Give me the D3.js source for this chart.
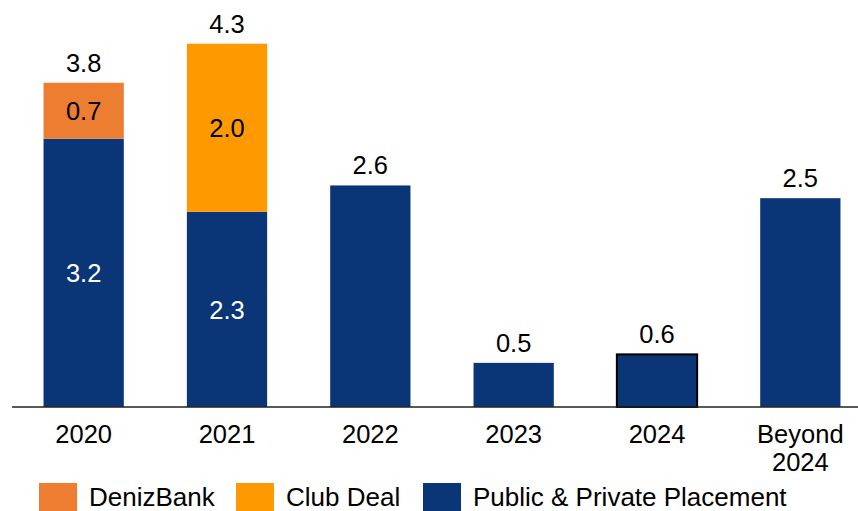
<!DOCTYPE html>
<html>
<head>
<meta charset="utf-8">
<script src="https://cdn.jsdelivr.net/npm/d3@7"></script>
<style>
  body { margin: 0; background: #fff; }
  svg text { font-family: "Liberation Sans", Arial, sans-serif; }
</style>
</head>
<body>
<div id="chart"></div>
<script>
'use strict';

// data
const categories = ["2020", "2021", "2022", "2023", "2024", "Beyond 2024"];
const publicPrivate = [3.16, 2.30, 2.61, 0.52, 0.62, 2.46];
const clubDeal      = [0, 1.98, 0, 0, 0, 0];
const denizBank     = [0.66, 0, 0, 0, 0, 0];
const seriesNames   = ["Public & Private Placement", "Club Deal", "DenizBank"];
const legendOrder   = ["DenizBank", "Club Deal", "Public & Private Placement"];

const colors = {
    "Public & Private Placement": "#0a3577",
    "Club Deal": "#ff9900",
    "DenizBank": "#ed7d31"
};
const labelColors = {
    "Public & Private Placement": "#fff",
    "Club Deal": "#000",
    "DenizBank": "#000"
};

let width = 858, height = 511;
let baseY = 407;
let fontSize = "25.5px";

let svg = d3.select("#chart").append("svg")
    .attr("width", width)
    .attr("height", height);

let x = d3.scaleBand()
    .domain(categories)
    .range([12, 872])
    .paddingInner(0.44)
    .paddingOuter(0.22);

let y = d3.scaleLinear()
    .domain([0, 4.3])
    .range([baseY, 42]);

let rows = categories.map((c, i) => ({
    cat: c,
    "Public & Private Placement": publicPrivate[i],
    "Club Deal": clubDeal[i],
    "DenizBank": denizBank[i]
}));

let stacked = d3.stack().keys(seriesNames)(rows);

let layers = svg.selectAll(".layer")
    .data(stacked)
    .enter().append("g")
    .attr("class", "layer")
    .attr("fill", d => colors[d.key]);

layers.selectAll("rect")
    .data(d => d.filter(s => s[1] - s[0] > 0))
    .enter().append("rect")
    .attr("x", d => x(d.data.cat))
    .attr("width", x.bandwidth())
    .attr("y", d => y(d[1]))
    .attr("height", d => y(d[0]) - y(d[1]))
    .attr("stroke", d => d.data.cat === "2024" ? "#000" : "none")
    .attr("stroke-width", 2);

// segment labels only where a bar has more than one piece
let multi = rows.filter(r => seriesNames.filter(k => r[k] > 0).length > 1).map(r => r.cat);

stacked.forEach(layer => {
    svg.selectAll(null)
        .data(layer.filter(s => s[1] - s[0] > 0 && multi.includes(s.data.cat)))
        .enter().append("text")
        .attr("x", d => x(d.data.cat) + x.bandwidth() / 2)
        .attr("y", d => (y(d[0]) + y(d[1])) / 2)
        .attr("dy", "0.36em")
        .attr("text-anchor", "middle")
        .attr("fill", labelColors[layer.key])
        .style("font-size", fontSize)
        .text(d => (d[1] - d[0]).toFixed(1));
});

// totals
svg.selectAll(".total")
    .data(rows)
    .enter().append("text")
    .attr("class", "total")
    .attr("x", d => x(d.cat) + x.bandwidth() / 2)
    .attr("y", d => y(d3.sum(seriesNames, k => d[k])) - 11)
    .attr("text-anchor", "middle")
    .attr("fill", "#000")
    .style("font-size", fontSize)
    .text(d => d3.sum(seriesNames, k => d[k]).toFixed(1));

// axis
let xAxis = d3.axisBottom(x).tickSize(0).tickPadding(0);
let ax = svg.append("g")
    .attr("transform", "translate(0," + baseY + ")")
    .call(xAxis);
ax.select(".domain").remove();
ax.selectAll(".tick text").remove();
ax.selectAll(".tick").each(function (d) {
    let t = d3.select(this).append("text")
        .attr("text-anchor", "middle")
        .attr("fill", "#000")
        .style("font-size", fontSize);
    let parts = d.split(" ");
    parts.forEach((p, i) => {
        t.append("tspan").attr("x", 0).attr("y", 36 + i * 28).text(p);
    });
});
svg.append("line")
    .attr("x1", 12).attr("x2", width)
    .attr("y1", baseY).attr("y2", baseY)
    .attr("stroke", "#222")
    .attr("stroke-width", 1.5);

// legend
let legendX = [39, 236, 423];
let legend = svg.selectAll(".legend")
    .data(legendOrder)
    .enter().append("g")
    .attr("class", "legend")
    .attr("transform", (d, i) => "translate(" + legendX[i] + ",483)");
legend.append("rect")
    .attr("width", 38).attr("height", 30)
    .attr("fill", d => colors[d]);
legend.append("text")
    .attr("x", 50).attr("y", 23)
    .attr("fill", "#000")
    .style("font-size", "26px")
    .text(d => d);
</script>
</body>
</html>
